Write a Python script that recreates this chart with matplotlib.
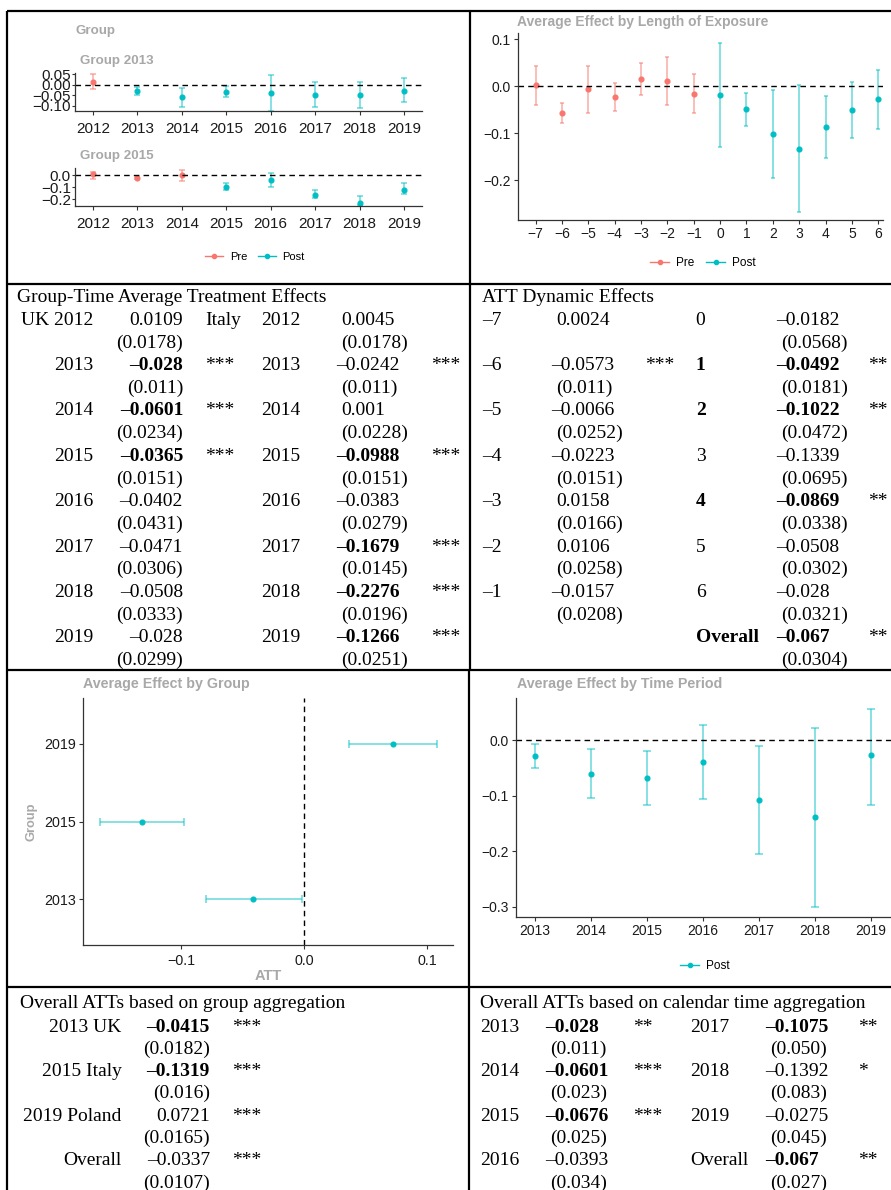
import numpy as np
import matplotlib.pyplot as plt
from matplotlib.lines import Line2D

plt.rcParams['font.family'] = ['Liberation Sans', 'DejaVu Sans']

# ---------------- data ----------------
years = [2012, 2013, 2014, 2015, 2016, 2017, 2018, 2019]

# group 2013 (UK)
uk_est = [0.0109, -0.028, -0.0601, -0.0365, -0.0402, -0.0471, -0.0508, -0.028]
uk_se = [0.0178, 0.011, 0.0234, 0.0151, 0.0431, 0.0306, 0.0333, 0.0299]
uk_lo = [-0.019, -0.048, -0.103, -0.059, -0.122, -0.103, -0.111, -0.082]
uk_hi = [0.048, -0.011, -0.016, -0.005, 0.044, 0.013, 0.013, 0.030]
uk_bold = [False, True, True, True, False, False, False, False]
uk_star = ['', '***', '***', '***', '', '', '', '']

# group 2015 (Italy)
it_est = [0.0045, -0.0242, 0.001, -0.0988, -0.0383, -0.1679, -0.2276, -0.1266]
it_se = [0.0178, 0.011, 0.0228, 0.0151, 0.0279, 0.0145, 0.0196, 0.0251]
it_lo = [-0.033, -0.035, -0.047, -0.120, -0.097, -0.186, -0.250, -0.158]
it_hi = [0.028, -0.015, 0.042, -0.064, 0.020, -0.125, -0.175, -0.069]
it_bold = [False, False, False, True, False, True, True, True]
it_star = ['', '***', '', '***', '', '***', '***', '***']

# dynamic effects
e_time = [-7, -6, -5, -4, -3, -2, -1, 0, 1, 2, 3, 4, 5, 6]
dyn_est = [0.0024, -0.0573, -0.0066, -0.0223, 0.0158, 0.0106, -0.0157,
           -0.0182, -0.0492, -0.1022, -0.1339, -0.0869, -0.0508, -0.028]
dyn_se = [None, 0.011, 0.0252, 0.0151, 0.0166, 0.0258, 0.0208,
          0.0568, 0.0181, 0.0472, 0.0695, 0.0338, 0.0302, 0.0321]
dyn_lo = [-0.039, -0.079, -0.056, -0.052, -0.018, -0.040, -0.056,
          -0.130, -0.084, -0.194, -0.268, -0.152, -0.109, -0.091]
dyn_hi = [0.0426, -0.035, 0.0426, 0.0078, 0.049, 0.061, 0.025,
          0.092, -0.0135, -0.0085, 0.002, -0.020, 0.0085, 0.035]
dyn_bold = [False] * 8 + [True, True, False, True, False, False]
dyn_star = ['', '***', '', '', '', '', '', '', '**', '**', '', '**', '', '']
dyn_overall = (-0.067, 0.0304, '**')

# group aggregation
grp_names = ['2013', '2015', '2019']
grp_labels = ['2013 UK', '2015 Italy', '2019 Poland', 'Overall']
grp_est = [-0.0415, -0.1319, 0.0721, -0.0337]
grp_se = [0.0182, 0.016, 0.0165, 0.0107]
grp_lo = [-0.0802, -0.1665, 0.0367]
grp_hi = [-0.0019, -0.0977, 0.1078]
grp_bold = [True, True, False, False]
grp_star = ['***', '***', '***', '***']

# calendar time aggregation
cal_years = [2013, 2014, 2015, 2016, 2017, 2018, 2019]
cal_est = [-0.028, -0.0601, -0.0676, -0.0393, -0.1075, -0.1392, -0.0275]
cal_se = [0.011, 0.023, 0.025, 0.034, 0.050, 0.083, 0.045]
cal_lo = [-0.0505, -0.105, -0.1165, -0.106, -0.2054, -0.2997, -0.1165]
cal_hi = [-0.0072, -0.0162, -0.0192, 0.027, -0.0096, 0.0222, 0.057]
cal_bold = [True, True, True, False, True, False, False]
cal_star = ['**', '***', '***', '', '**', '*', '']
cal_overall = (-0.067, 0.027, '**')

PRE = '#F8766D'
POST = '#00BFC4'
GREY = '#A8A8A8'
W, H = 891, 1190

fig = plt.figure(figsize=(W / 100, H / 100), dpi=100)
bg = fig.add_axes([0, 0, 1, 1])
bg.set_xlim(0, W)
bg.set_ylim(H, 0)
bg.axis('off')

# table borders
for xs, ys in [([7, 7], [11, H]), ([470, 470], [11, 670]), ([469, 469], [670, H]),
               ([7, W], [11, 11]), ([7, W], [284, 284]), ([7, W], [670, 670]),
               ([7, W], [987, 987])]:
    bg.plot(xs, ys, color='black', lw=1.6, solid_capstyle='butt')


def axes_px(x0, y0, x1, y1):
    return fig.add_axes([x0 / W, 1 - y1 / H, (x1 - x0) / W, (y1 - y0) / H])


def style(ax, size=10):
    for s in ['top', 'right']:
        ax.spines[s].set_visible(False)
    for s in ['left', 'bottom']:
        ax.spines[s].set_color('#333333')
        ax.spines[s].set_linewidth(0.9)
    ax.tick_params(colors='#333333', labelcolor='#1a1a1a', length=3,
                   width=0.8, labelsize=size, pad=2)
    ax.patch.set_alpha(0)


def ci(ax, x, est, lo, hi, color, horizontal=False, cap=1.8):
    x, est, lo, hi = map(np.asarray, (x, est, lo, hi))
    err = [est - lo, hi - est]
    if horizontal:
        ax.errorbar(est, x, xerr=err, fmt='none', ecolor=color, alpha=0.6,
                    elinewidth=1.1, capsize=cap, capthick=1.1)
        ax.plot(est, x, 'o', color=color, ms=3.4)
    else:
        ax.errorbar(x, est, yerr=err, fmt='none', ecolor=color, alpha=0.6,
                    elinewidth=1.1, capsize=cap, capthick=1.1)
        ax.plot(x, est, 'o', color=color, ms=3.4)


def legend(cx, cy, items, size=8.5):
    handles = [Line2D([], [], color=c, marker='o', ms=3, lw=1) for c, _ in items]
    fig.legend(handles, [t for _, t in items], loc='center',
               bbox_to_anchor=(cx / W, 1 - cy / H), ncol=len(items),
               frameon=False, fontsize=size, handlelength=1.6,
               handletextpad=0.6, columnspacing=1.0)


# ---------- top-left: group-time effects ----------
bg.text(75, 31, 'Group', color=GREY, fontsize=9.6, fontweight='bold', va='center')
panels = [(73, 111, 2013, uk_est, uk_lo, uk_hi, (-0.124, 0.055),
           [0.05, 0.0, -0.05, -0.10], 'Group 2013', 61),
          (168, 206, 2015, it_est, it_lo, it_hi, (-0.256, 0.058),
           [0.0, -0.1, -0.2], 'Group 2015', 156)]
for y0, y1, g, est, lo, hi, ylim, yt, name, ty in panels:
    ax = axes_px(75, y0, 422, y1)
    style(ax, 11)
    yr = np.array(years)
    pre = yr < g
    ci(ax, yr[pre], np.array(est)[pre], np.array(lo)[pre], np.array(hi)[pre], PRE, cap=2)
    ci(ax, yr[~pre], np.array(est)[~pre], np.array(lo)[~pre], np.array(hi)[~pre], POST, cap=2)
    ax.axhline(0, color='black', ls=(0, (4, 3)), lw=1)
    ax.set_xlim(2011.595, 2019.405)
    ax.set_ylim(*ylim)
    ax.set_xticks(years)
    ax.set_yticks(yt)
    ax.tick_params(axis='x', pad=5, labelsize=11)
    ax.tick_params(axis='y', pad=1, length=2)
    bg.text(80, ty, name, color=GREY, fontsize=9.6, fontweight='bold', va='center')
legend(255, 257, [(PRE, 'Pre'), (POST, 'Post')], 8)

# ---------- top-right: dynamic effects ----------
bg.text(517, 22, 'Average Effect by Length of Exposure', color=GREY,
        fontsize=10, fontweight='bold', va='center')
ax = axes_px(517.7, 33, 883, 220)
style(ax, 10)
et = np.array(e_time)
pre = et < 0
ci(ax, et[pre], np.array(dyn_est)[pre], np.array(dyn_lo)[pre], np.array(dyn_hi)[pre], PRE, cap=1.6)
ci(ax, et[~pre], np.array(dyn_est)[~pre], np.array(dyn_lo)[~pre], np.array(dyn_hi)[~pre], POST, cap=1.6)
ax.axhline(0, color='black', ls=(0, (4, 3)), lw=1)
ax.set_xlim(-7.68, 6.18)
ax.set_ylim(-0.284, 0.113)
ax.set_xticks(e_time)
ax.set_yticks([0.1, 0.0, -0.1, -0.2])
ax.tick_params(axis='x', pad=2)
legend(703, 263, [(PRE, 'Pre'), (POST, 'Post')], 8.5)

# ---------- middle-left: effect by group ----------
bg.text(83, 684, 'Average Effect by Group', color=GREY, fontsize=10.3,
        fontweight='bold', va='center')
ax = axes_px(83.3, 698, 452.7, 945.3)
style(ax, 10.3)
gpos = np.arange(1, len(grp_names) + 1)
ci(ax, gpos, grp_est[:3], grp_lo, grp_hi, POST, horizontal=True, cap=2.6)
ax.axvline(0, color='black', ls=(0, (4, 3)), lw=1)
ax.set_xlim(-0.180, 0.121)
ax.set_ylim(0.41, 3.59)
ax.set_yticks(gpos)
ax.set_yticklabels(grp_names)
ax.set_xticks([-0.1, 0.0, 0.1])
ax.tick_params(axis='x', pad=3)
bg.text(32, 822, 'Group', color=GREY, fontsize=9.3, fontweight='bold',
        rotation=90, ha='center', va='center')
bg.text(268, 976, 'ATT', color=GREY, fontsize=10.5, fontweight='bold',
        ha='center', va='center')

# ---------- middle-right: effect by time period ----------
bg.text(516.7, 684, 'Average Effect by Time Period', color=GREY, fontsize=10.3,
        fontweight='bold', va='center')
ax = axes_px(516, 698, 891, 916.7)
style(ax, 10)
ci(ax, cal_years, cal_est, cal_lo, cal_hi, POST, cap=2.6)
ax.axhline(0, color='black', ls=(0, (4, 3)), lw=1)
ax.set_xlim(2012.66, 2019.36)
ax.set_ylim(-0.318, 0.076)
ax.set_xticks(cal_years)
ax.set_yticks([0.0, -0.1, -0.2, -0.3])
ax.tick_params(axis='x', pad=2)
legend(705, 966, [(POST, 'Post')], 8.5)

# ---------------- tables ----------------
FS = 14


def put(x, yc, s, ha='left', bold=False):
    bg.text(x, yc + 6.5, s, ha=ha, va='baseline', fontsize=FS,
            family='Liberation Serif', fontweight='bold' if bold else 'normal',
            color='black')


def num(v):
    return str(v).replace('-', '\u2013')


def put_num(x, yc, v, bold=False, ha='left'):
    if ha == 'left' and v < 0:
        x -= 5
    put(x, yc, num(v), ha=ha, bold=bold)


# table 1: group-time average treatment effects
put(17, 296, 'Group-Time Average Treatment Effects')
row = 22.67
for i, y in enumerate(years):
    yc = 318.3 + 2 * i * row
    put(93, yc, ('UK ' if i == 0 else '') + str(y), ha='right')
    put_num(183, yc, uk_est[i], uk_bold[i], ha='right')
    put(183, yc + row, '(' + str(uk_se[i]) + ')', ha='right')
    if uk_star[i]:
        put(205, yc, uk_star[i])
    if i == 0:
        put(205, yc, 'Italy')
    put(300, yc, str(y), ha='right')
    put_num(341, yc, it_est[i], it_bold[i])
    put(341, yc + row, '(' + str(it_se[i]) + ')')
    if it_star[i]:
        put(431, yc, it_star[i])

# table 2: dynamic effects
put(481.7, 296, 'ATT Dynamic Effects')
for i, e in enumerate(e_time):
    side = 0 if e < 0 else 1
    k = i if side == 0 else i - 7
    yc = 318.3 + 2 * k * row
    xl, xv, xs = [(481.7, 556, 645), (695.7, 781, 868.3)][side]
    put(xl, yc, num(e), bold=dyn_bold[i])
    put_num(xv, yc, dyn_est[i], dyn_bold[i])
    if dyn_se[i] is not None:
        put(xv, yc + row, '(' + str(dyn_se[i]) + ')')
    if dyn_star[i]:
        put(xs, yc, dyn_star[i])
yc = 318.3 + 14 * row
put(695.7, yc, 'Overall', bold=True)
put_num(781, yc, dyn_overall[0], True)
put(781, yc + row, '(' + str(dyn_overall[1]) + ')')
put(868.3, yc, dyn_overall[2])

# table 3: group aggregation
put(20, 1002, 'Overall ATTs based on group aggregation')
row3 = 22.3
for i, lab in enumerate(grp_labels):
    yc = 1025 + 2 * i * row3
    put(121.7, yc, lab, ha='right')
    put_num(210, yc, grp_est[i], grp_bold[i], ha='right')
    put(210, yc + row3, '(' + str(grp_se[i]) + ')', ha='right')
    put(232.3, yc, grp_star[i])

# table 4: calendar time aggregation
put(480, 1002, 'Overall ATTs based on calendar time aggregation')
for i, y in enumerate(cal_years):
    side = 0 if i < 4 else 1
    k = i if side == 0 else i - 4
    yc = 1025 + 2 * k * row3
    xl, xv, xs = [(480, 550, 633), (690, 770, 858)][side]
    put(xl, yc, str(y))
    put_num(xv, yc, cal_est[i], cal_bold[i])
    put(xv, yc + row3, '({:.3f})'.format(cal_se[i]))
    if cal_star[i]:
        put(xs, yc, cal_star[i])
yc = 1025 + 6 * row3
put(690, yc, 'Overall')
put_num(770, yc, cal_overall[0], True)
put(770, yc + row3, '({:.3f})'.format(cal_overall[1]))
put(858, yc, cal_overall[2])

fig.savefig('out.png', dpi=100)
